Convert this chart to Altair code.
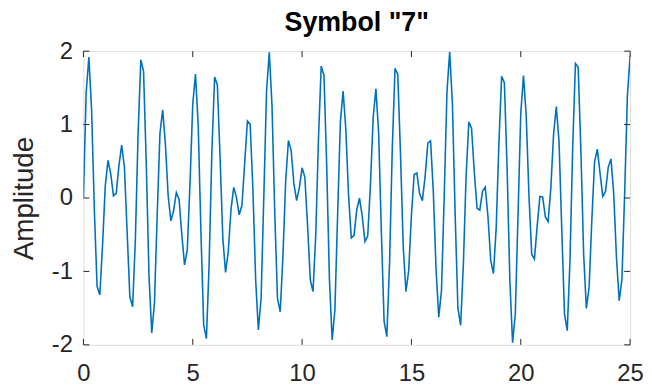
import altair as alt
import pandas as pd

# Amplitude samples (8 kHz sampling, 0..25 ms)
amplitude = [
    0.000, 1.434, 1.920, 1.195, -0.162, -1.202, -1.319, -0.644, 0.165, 0.512,
    0.327, 0.029, 0.063, 0.443, 0.721, 0.419, -0.466, -1.349, -1.481, -0.576,
    0.870, 1.884, 1.726, 0.463, -1.061, -1.837, -1.423, -0.221, 0.880, 1.200,
    0.730, 0.031, -0.311, -0.172, 0.075, -0.021, -0.499, -0.910, -0.708, 0.203,
    1.277, 1.687, 0.988, -0.469, -1.727, -1.915, -0.891, 0.637, 1.647, 1.542,
    0.545, -0.547, -1.013, -0.728, -0.153, 0.145, 0.006, -0.229, -0.099, 0.476,
    1.049, 1.003, 0.127, -1.099, -1.798, -1.364, 0.020, 1.461, 1.985, 1.254,
    -0.196, -1.369, -1.550, -0.788, 0.233, 0.784, 0.648, 0.195, -0.036, 0.142,
    0.411, 0.285, -0.368, -1.115, -1.273, -0.501, 0.821, 1.796, 1.673, 0.443,
    -1.103, -1.933, -1.525, -0.228, 1.031, 1.456, 0.937, 0.033, -0.544, -0.510,
    -0.160, -0.003, -0.248, -0.593, -0.519, 0.174, 1.091, 1.488, 0.888, -0.459,
    -1.677, -1.889, -0.886, 0.681, 1.765, 1.687, 0.604, -0.664, -1.277, -0.988,
    -0.232, 0.320, 0.340, 0.058, -0.036, 0.290, 0.747, 0.777, 0.093, -0.967,
    -1.622, -1.256, 0.038, 1.445, 1.991, 1.274, -0.227, -1.497, -1.734, -0.904,
    0.300, 1.036, 0.948, 0.350, -0.140, -0.166, 0.090, 0.148, -0.253, -0.846,
    -1.029, -0.415, 0.744, 1.656, 1.572, 0.410, -1.113, -1.972, -1.580, -0.225,
    1.154, 1.669, 1.111, 0.029, -0.765, -0.833, -0.384, 0.022, 0.015, -0.259,
    -0.320, 0.135, 0.869, 1.245, 0.765, -0.433, -1.577, -1.807, -0.853, 0.706,
    1.832, 1.782, 0.641, -0.764, -1.504, -1.216, -0.298, 0.492, 0.666, 0.339,
    0.021, 0.089, 0.421, 0.532, 0.062, -0.803, -1.398, -1.113, 0.053, 1.385,
    1.939,
]
sample_step_ms = 0.125
time_ms = [i * sample_step_ms for i in range(len(amplitude))]

x_ticks = [0, 5, 10, 15, 20, 25]
y_ticks = [-2, -1, 0, 1, 2]
title_text = 'Symbol "7"'
y_title = "Amplitude"

W, H = 551, 296
FONT = "Liberation Sans"
AX = "#262626"
TICK_LEN = 6
LABEL_EXPR = "'' + datum.value"

df = pd.DataFrame({"t": time_ms, "a": amplitude})
xt = pd.DataFrame({"t": x_ticks})
yt = pd.DataFrame({"a": y_ticks})

xs = alt.Scale(domain=[0, 25], nice=False, zero=False)
ys = alt.Scale(domain=[-2, 2], nice=False, zero=False)

x_axis = alt.Axis(
    values=x_ticks, title=None, tickSize=0, domain=False, grid=False,
    labelPadding=17, labelFontSize=24, labelColor=AX, labelFont=FONT,
    labelFlush=False, labelExpr=LABEL_EXPR)
y_axis = alt.Axis(
    values=y_ticks, title=y_title, tickSize=0, domain=False, grid=False,
    labelPadding=11, labelFontSize=24, labelColor=AX, labelFont=FONT,
    labelFlush=False, labelExpr=LABEL_EXPR,
    titleFont=FONT, titleFontSize=28, titleFontWeight="normal",
    titleColor=AX, titlePadding=13)

X = alt.X("t:Q", scale=xs, axis=x_axis)
Y = alt.Y("a:Q", scale=ys, axis=y_axis)

line = alt.Chart(df).mark_line(color="#0072BD", strokeWidth=1.6, clip=True).encode(x=X, y=Y)

x_top = alt.Chart(xt).mark_rule(color=AX, strokeWidth=1).encode(
    x=X, y=alt.value(0), y2=alt.value(TICK_LEN))
x_bot = alt.Chart(xt).mark_rule(color=AX, strokeWidth=1).encode(
    x=X, y=alt.value(H - TICK_LEN), y2=alt.value(H))
y_left = alt.Chart(yt).mark_rule(color=AX, strokeWidth=1).encode(
    y=Y, x=alt.value(0), x2=alt.value(TICK_LEN))
y_right = alt.Chart(yt).mark_rule(color=AX, strokeWidth=1).encode(
    y=Y, x=alt.value(W - TICK_LEN), x2=alt.value(W))

chart = alt.layer(line, x_top, x_bot, y_left, y_right).properties(
    width=W, height=H,
    title=alt.TitleParams(title_text, font=FONT, fontSize=27, fontWeight="bold",
                          color="#000000", anchor="middle", offset=14, frame="group",
                          dy=12),
    autosize=alt.AutoSizeParams(type="none"),
    padding={"left": 76, "top": 42, "right": 14, "bottom": 40},
).configure_view(stroke=AX, strokeWidth=1.2).configure(background="white")

chart.save("out.html", embed_options={"renderer": "svg", "actions": False})
